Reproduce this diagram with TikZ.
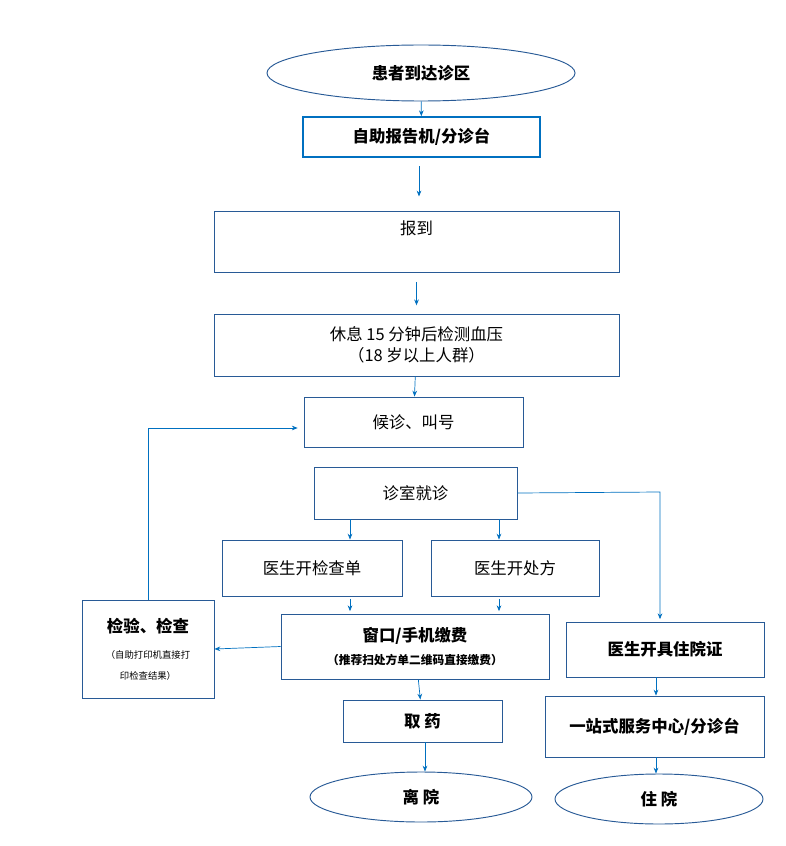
\documentclass[tikz,border=0pt]{standalone}
\usepackage{fontspec}
\setmainfont{Noto Sans CJK SC}
\usetikzlibrary{shapes.geometric,arrows.meta}
\definecolor{lineblue}{RGB}{0,112,192}
\definecolor{boxblue}{RGB}{40,90,150}
\begin{document}
\begin{tikzpicture}[x=0.03cm,y=-0.03cm,
    box/.style={draw=boxblue,line width=0.8pt,inner sep=2pt,align=center,font=\fontsize{14}{18}\selectfont},
    bbox/.style={box,font=\bfseries\fontsize{14}{18}\selectfont},
    oval/.style={ellipse,draw=boxblue,line width=0.8pt,font=\bfseries\fontsize{14}{18}\selectfont},
    arr/.style={draw=lineblue,line width=0.6pt,-{Stealth[length=5pt,width=4pt]}}
   ]
  \useasboundingbox (0,0) rectangle (785,846);
  \node[oval,minimum width=9.24cm,minimum height=1.68cm] (arrive) at (421,73) {患者到达诊区};
  \node[bbox,draw=lineblue,line width=1.4pt,minimum width=7.11cm,minimum height=1.2cm] (kiosk) at (421.5,137) {自助报告机/分诊台};
  \node[box,minimum width=12.15cm,minimum height=1.83cm,
        label={[anchor=north,yshift=-5pt,font=\fontsize{14}{18}\selectfont]north:报到}] (checkin) at (416.5,241.5) {};
  \node[box,minimum width=12.15cm,minimum height=1.86cm] (rest) at (416.5,345) {休息 15 分钟后检测血压\\（18 岁以上人群）};
  \node[box,minimum width=6.57cm,minimum height=1.5cm] (wait) at (413.5,422) {候诊、叫号};
  \node[box,minimum width=6.09cm,minimum height=1.56cm] (visit) at (415.5,493) {诊室就诊};
  \node[box,minimum width=5.4cm,minimum height=1.68cm] (exam) at (312,568) {医生开检查单};
  \node[box,minimum width=5.04cm,minimum height=1.68cm] (presc) at (515,568) {医生开处方};
  \node[bbox,minimum width=8.04cm,minimum height=1.95cm] (pay) at (415,646.5)
       {窗口/手机缴费\\[2pt]\fontsize{10}{12}\selectfont（推荐扫处方单二维码直接缴费）};
  \node[bbox,minimum width=3.96cm,minimum height=2.94cm] (test) at (148,649)
       {检验、检查\\[4pt]\mdseries\fontsize{8}{13}\selectfont （自助打印机直接打\\\mdseries\fontsize{8}{13}\selectfont 印检查结果）};
  \node[bbox,minimum width=5.94cm,minimum height=1.65cm] (admit) at (665,649.5) {医生开具住院证};
  \node[bbox,minimum width=4.77cm,minimum height=1.26cm] (drug) at (422.5,721) {取\ 药};
  \node[bbox,minimum width=6.57cm,minimum height=1.83cm] (center) at (654.5,726.5) {一站式服务中心/分诊台};
  \node[oval,minimum width=6.66cm,minimum height=1.5cm] (leave) at (421,797) {离\ 院};
  \node[oval,minimum width=6.24cm,minimum height=1.5cm] (inpat) at (659,799) {住\ 院};
  % corner points of the bent lines
  \coordinate (up) at (148,428);
  \coordinate (right) at (660,492);
  \path[arr] (arrive) -- (kiosk);
  \path[arr,shorten <=7pt,shorten >=12pt] (kiosk.south -| 419,0) -- (checkin.north -| 419,0);
  \path[arr,shorten <=8pt,shorten >=7pt] (checkin) -- (rest);
  \path[arr] (rest) -- (wait);
  \path[arr] (visit.south -| 350,0) -- (exam.north -| 350,0);
  \path[arr] (visit.south -| 499,0) -- (presc.north -| 499,0);
  \path[arr,shorten <=2pt,shorten >=2pt] (exam.south -| 350,0) -- (pay.north -| 350,0);
  \path[arr,shorten <=2pt,shorten >=2pt] (presc.south -| 499,0) -- (pay.north -| 499,0);
  \path[arr] (pay.west) -- (test.east);
  \path[arr,shorten >=5pt] (test.north) -- (up) -- (up -| wait.west);
  \path[arr,shorten >=2pt] (visit.east) -- (right) -- (right |- admit.north);
  \path[arr] (pay) -- (drug);
  \path[arr] (drug.south -| 425,0) -- (leave.north -| 425,0);
  \path[arr] (admit.south -| 656,0) -- (center.north -| 656,0);
  \path[arr] (center.south -| 656,0) -- (inpat.north -| 656,0);
\end{tikzpicture}
\end{document}
